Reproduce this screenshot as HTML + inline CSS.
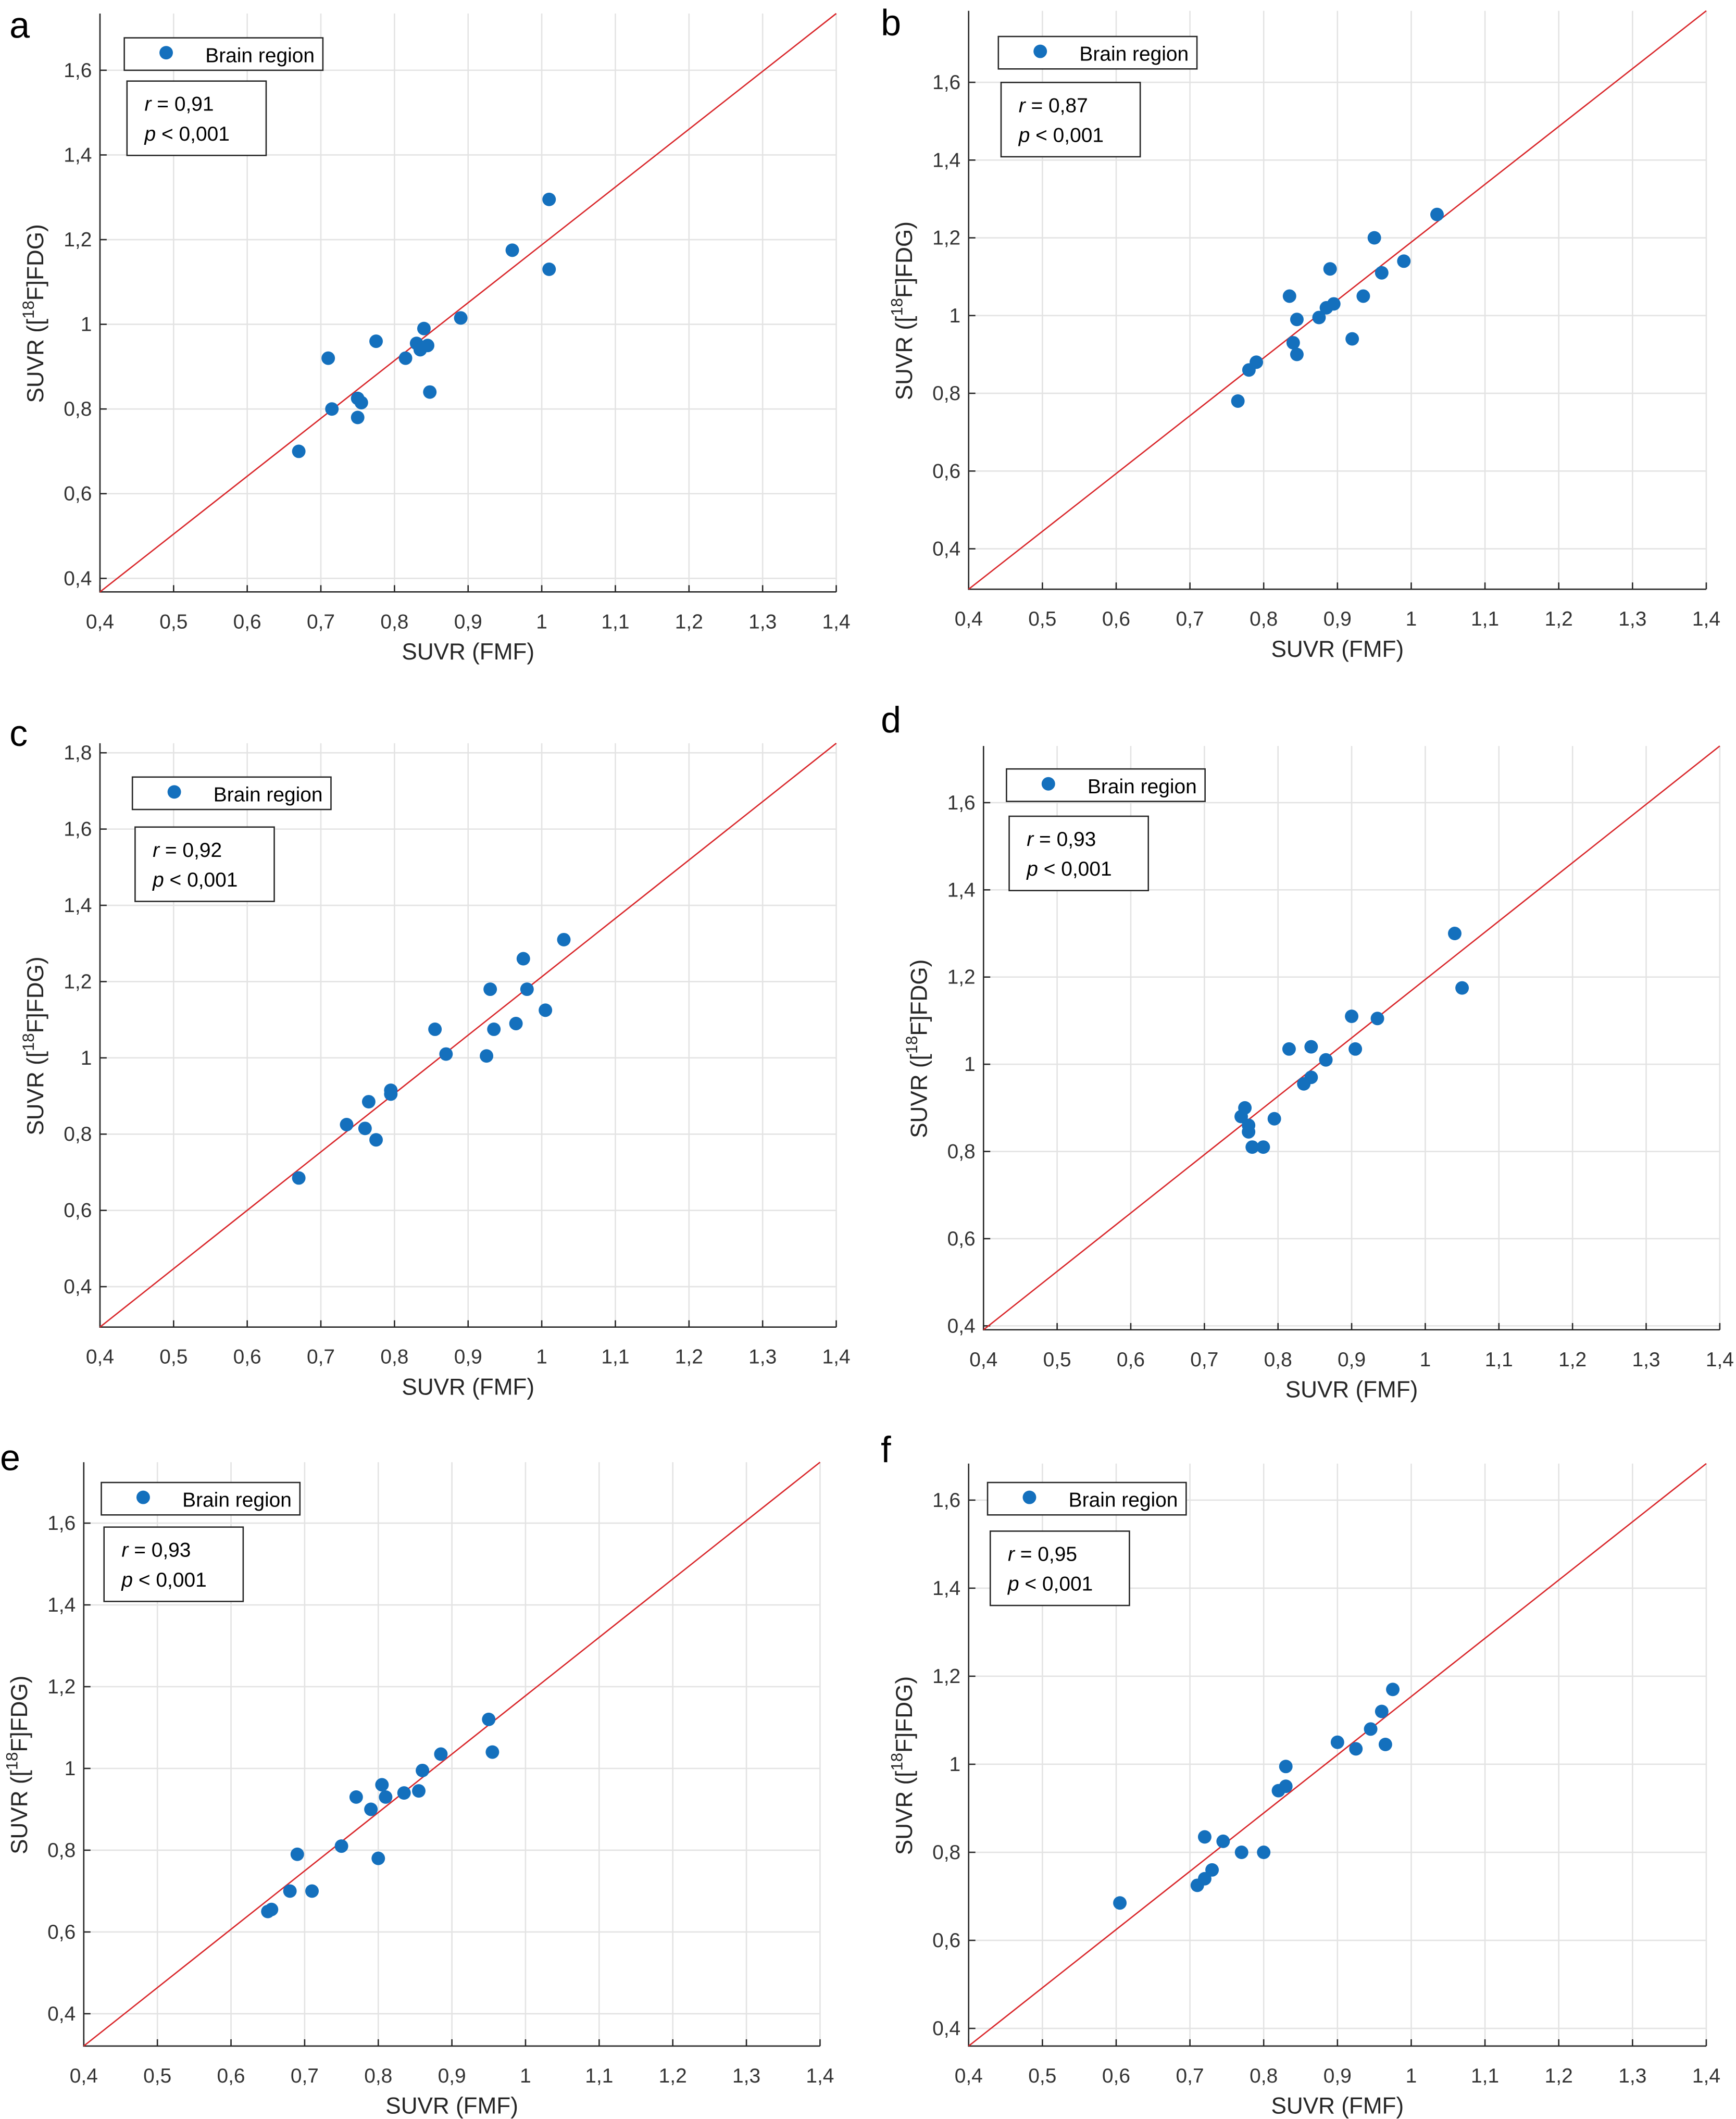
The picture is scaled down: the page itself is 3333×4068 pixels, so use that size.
<!DOCTYPE html>
<html><head><meta charset="utf-8"><style>
html,body{margin:0;padding:0;background:#fff;}
svg{display:block;font-family:"Liberation Sans",sans-serif;}
</style></head><body>
<svg id="fig" width="3333" height="4068" viewBox="0 0 1285 1568" preserveAspectRatio="none" xmlns="http://www.w3.org/2000/svg"></svg>
<script>
const panelLetters = ["a","b","c","d","e","f"];
const rValues = ["0,91","0,87","0,92","0,93","0,93","0,95"];
const xTicks = [0.4,0.5,0.6,0.7,0.8,0.9,1,1.1,1.2,1.3,1.4];
const xA=[0.67,0.71,0.715,0.75,0.75,0.755,0.775,0.815,0.83,0.835,0.84,0.845,0.848,0.89,0.96,1.01,1.01];
const yA=[0.70,0.92,0.80,0.825,0.78,0.815,0.96,0.92,0.955,0.94,0.99,0.95,0.84,1.015,1.175,1.295,1.13];
const xB=[0.765,0.78,0.79,0.835,0.84,0.845,0.845,0.875,0.885,0.89,0.895,0.92,0.935,0.95,0.96,0.99,1.035];
const yB=[0.78,0.86,0.88,1.05,0.93,0.90,0.99,0.995,1.02,1.12,1.03,0.94,1.05,1.20,1.11,1.14,1.26];
const xC=[0.67,0.735,0.76,0.765,0.775,0.795,0.795,0.855,0.87,0.925,0.93,0.935,0.965,0.975,0.98,1.005,1.03];
const yC=[0.685,0.825,0.815,0.885,0.785,0.905,0.915,1.075,1.01,1.005,1.18,1.075,1.09,1.26,1.18,1.125,1.31];
const xD=[0.75,0.755,0.76,0.76,0.765,0.78,0.795,0.815,0.835,0.845,0.845,0.865,0.9,0.905,0.935,1.04,1.05];
const yD=[0.88,0.90,0.86,0.845,0.81,0.81,0.875,1.035,0.955,0.97,1.04,1.01,1.11,1.035,1.105,1.30,1.175];
const xE=[0.65,0.655,0.68,0.69,0.71,0.75,0.77,0.79,0.8,0.805,0.81,0.835,0.855,0.86,0.885,0.95,0.955];
const yE=[0.65,0.655,0.70,0.79,0.70,0.81,0.93,0.90,0.78,0.96,0.93,0.94,0.945,0.995,1.035,1.12,1.04];
const xF=[0.605,0.71,0.72,0.72,0.73,0.745,0.77,0.80,0.82,0.83,0.83,0.9,0.925,0.945,0.96,0.965,0.975];
const yF=[0.685,0.725,0.835,0.74,0.76,0.825,0.80,0.80,0.94,0.995,0.95,1.05,1.035,1.08,1.12,1.045,1.17];
const yTicksA=[0.4,0.6,0.8,1,1.2,1.4,1.6];
const yTicksC=[0.4,0.6,0.8,1,1.2,1.4,1.6,1.8];
const xSeries=[xA,xB,xC,xD,xE,xF];
const ySeries=[yA,yB,yC,yD,yE,yF];
const yTickSets=[yTicksA,yTicksA,yTicksC,yTicksA,yTicksA,yTicksA];
// layout (thumbnail coordinate space)
const layout=[
 {l:74,r:619,t:10,b:438,ymin:0.368,ymax:1.734,lx:15,ly:28,gx:92,gy:28,sdy:32},
 {l:717,r:1263,t:8,b:436,ymin:0.296,ymax:1.784,lx:660,ly:26,gx:739,gy:27,sdy:34},
 {l:74,r:619,t:550,b:982,ymin:0.294,ymax:1.825,lx:15,ly:552,gx:98,gy:575,sdy:37},
 {l:728,r:1273,t:552,b:984,ymin:0.391,ymax:1.730,lx:660,ly:542,gx:745,gy:569,sdy:35},
 {l:62,r:607,t:1082,b:1514,ymin:0.321,ymax:1.749,lx:8,ly:1088,gx:75,gy:1097,sdy:33},
 {l:717,r:1263,t:1083,b:1514,ymin:0.36,ymax:1.683,lx:660,ly:1082,gx:731,gy:1097,sdy:36}];
const NS="http://www.w3.org/2000/svg";
const svg=document.getElementById('fig');
function mk(tag,attrs,parent,text){const e=document.createElementNS(NS,tag);for(const k in attrs)e.setAttribute(k,attrs[k]);if(text!==undefined)e.textContent=text;parent.appendChild(e);return e;}
const fmt=v=>(Math.round(v*10)/10).toString().replace('.',',');
layout.forEach((L,i)=>{
 const g=mk('g',{},svg);
 
 
 const xs=v=>L.l+(v-0.4)/(1.0)*(L.r-L.l);
 const ys=v=>L.b-(v-L.ymin)/(L.ymax-L.ymin)*(L.b-L.t);
 xTicks.forEach(v=>{const ln=mk('line',{x1:xs(v),x2:xs(v),y1:L.t,y2:L.b,stroke:'#e3e3e3','stroke-width':1},g);
  });
 yTickSets[i].forEach(v=>{const ln=mk('line',{x1:L.l,x2:L.r,y1:ys(v),y2:ys(v),stroke:'#e3e3e3','stroke-width':1},g);
  });
 const ax=mk('path',{d:`M${L.l},${L.t} V${L.b} H${L.r}`,fill:'none',stroke:'#262626','stroke-width':1},g);
 
 xTicks.forEach(v=>{mk('line',{x1:xs(v),x2:xs(v),y1:L.b,y2:L.b-5,stroke:'#262626','stroke-width':1},g);
  const t=mk('text',{x:xs(v),y:L.b+27,'text-anchor':'middle','font-size':15,fill:'#333'},g,fmt(v));
  });
 yTickSets[i].forEach(v=>{mk('line',{x1:L.l,x2:L.l+5,y1:ys(v),y2:ys(v),stroke:'#262626','stroke-width':1},g);
  const t=mk('text',{x:L.l-6,y:ys(v)+5,'text-anchor':'end','font-size':15,fill:'#333'},g,fmt(v));
  });
 const xl=mk('text',{x:(L.l+L.r)/2,y:L.b+50,'text-anchor':'middle','font-size':17,fill:'#262626'},g,'SUVR (FMF)');
 
 const cy=(L.t+L.b)/2+8;
 const yl=mk('text',{x:0,y:0,'text-anchor':'middle','font-size':17,fill:'#262626',transform:`translate(${L.l-42},${cy}) rotate(-90)`},g);
 
 mk('tspan',{},yl,'SUVR ([');
 mk('tspan',{'font-size':12,dy:-7},yl,'18');
 mk('tspan',{dy:7},yl,'F]FDG)');
 const pl=mk('text',{x:L.lx-8,y:L.ly,'font-size':27,fill:'#000'},g,panelLetters[i]);
 
 const dl=mk('line',{x1:L.l,y1:L.b,x2:L.r,y2:L.t,stroke:'#d9262a','stroke-width':1},g);
 
 xSeries[i].forEach((xv,k)=>{const c=mk('circle',{cx:xs(xv),cy:ys(ySeries[i][k]),r:5,fill:'#1470bd'},g);
  });
 const lg=mk('g',{},g);
 const bx=L.gx, by=L.gy;
 mk('rect',{x:bx,y:by,width:147,height:24,fill:'#fff',stroke:'#262626','stroke-width':1},lg);
 mk('circle',{cx:bx+31,cy:by+11,r:5,fill:'#1470bd'},lg);
 mk('text',{x:bx+60,y:by+18,'font-size':15,fill:'#000'},lg,'Brain region');
 const st=mk('g',{},g);
 const sy=by+L.sdy;
 mk('rect',{x:bx+2,y:sy,width:103,height:55,fill:'#fff',stroke:'#262626','stroke-width':1},st);
 const t1=mk('text',{x:bx+15,y:sy+22,'font-size':15,fill:'#000'},st);
 mk('tspan',{'font-style':'italic'},t1,'r');mk('tspan',{},t1,' = '+rValues[i]);
 const t2=mk('text',{x:bx+15,y:sy+44,'font-size':15,fill:'#000'},st);
 mk('tspan',{'font-style':'italic'},t2,'p');mk('tspan',{},t2,' < 0,001');
});
</script>
</body></html>
